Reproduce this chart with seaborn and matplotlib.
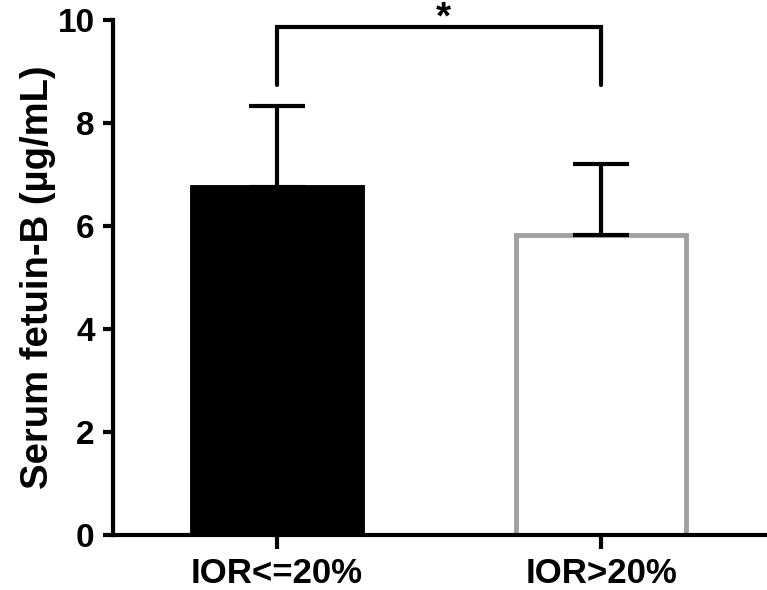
import matplotlib
matplotlib.use("Agg")
import matplotlib.pyplot as plt
import seaborn as sns
import numpy as np

groups = ["IOR<=20%", "IOR>20%"]
means = [6.76, 5.83]
upper_err = [8.33 - 6.76, 7.20 - 5.83]
face_colors = ["#000000", "#ffffff"]
edge_colors = ["#000000", "#a0a0a0"]
yticks = [0, 2, 4, 6, 8, 10]
ylabel = "Serum fetuin-B (µg/mL)"
sig_label = "*"

sns.set_style("ticks")
plt.rcParams["font.family"] = ["Liberation Sans", "DejaVu Sans"]
plt.rcParams["font.weight"] = "bold"
for k in ["text.color", "axes.labelcolor", "xtick.color", "ytick.color", "axes.edgecolor"]:
    plt.rcParams[k] = "black"

fig = plt.figure(figsize=(7.67, 5.90), dpi=100)
ax = fig.add_axes([0.147, 0.093, 0.853, 0.873])

sns.barplot(x=groups, y=means, ax=ax, width=0.525, errorbar=None)
for p, fc, ec in zip(ax.patches, face_colors, edge_colors):
    p.set_facecolor(fc)
    p.set_edgecolor(ec)
    p.set_linewidth(3.5)
    p.set_zorder(2)

xs = np.arange(len(groups))
ax.errorbar(xs, means, yerr=[np.zeros(len(means)), upper_err], fmt="none",
            ecolor="black", elinewidth=3, capsize=20, capthick=3, zorder=3)

# significance bracket
by = 9.87
leg = 8.74
ax.plot([xs[0], xs[0], xs[1], xs[1]], [leg, by, by, leg], color="black",
        lw=3, clip_on=False, solid_joinstyle="miter")
ax.text((xs[0] + xs[1]) / 2 + 0.015, 9.84, sig_label, ha="center", va="baseline",
        fontsize=28, fontweight="bold", clip_on=False)

ax.set_xlim(-0.506, 1.512)
ax.set_ylim(0, 10)
ax.set_yticks(yticks)
ax.set_yticklabels([str(t) for t in yticks])
ax.set_ylabel(ylabel, fontsize=27.5, fontweight="bold", labelpad=1)
ax.set_xlabel("")

for s in ["top", "right"]:
    ax.spines[s].set_visible(False)
for s in ["left", "bottom"]:
    ax.spines[s].set_linewidth(3)
ax.tick_params(axis="y", width=3, length=7, labelsize=24, pad=6)
ax.tick_params(axis="x", width=3, length=10, labelsize=25, pad=6)
for lbl in ax.get_xticklabels() + ax.get_yticklabels():
    lbl.set_fontweight("bold")

fig.savefig("out.png", dpi=100)
